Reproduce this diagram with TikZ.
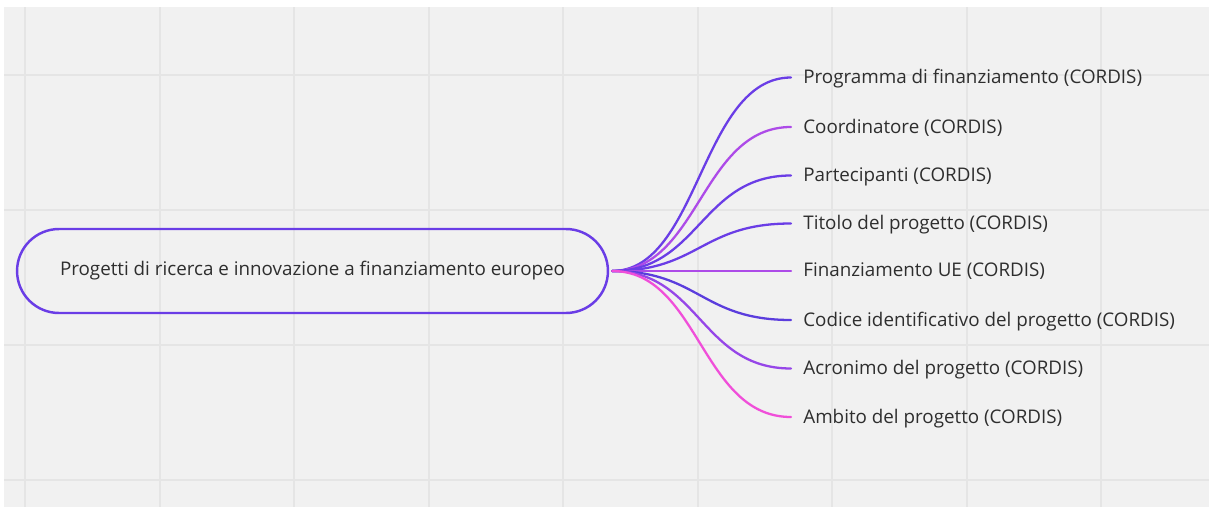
\documentclass[tikz,border=0pt]{standalone}
\usepackage{fontspec}
\setmainfont{Open Sans}
\usepackage{xcolor}
\usepackage{tikz}
\usetikzlibrary{positioning,calc}

\definecolor{boardgray}{HTML}{F1F1F1}
\definecolor{gridgray}{HTML}{E5E5E5}
\definecolor{mapblue}{HTML}{6A3DE6}
\definecolor{mapviolet}{HTML}{AD4BE8}
\definecolor{mappurple}{HTML}{9646E8}
\definecolor{mappink}{HTML}{F04FD9}
\definecolor{mapdeep}{HTML}{5B3DDD}
\definecolor{textdark}{HTML}{2E2E2E}

\tikzset{
    rootnode/.style={draw=mapblue, line width=1.4pt, rounded corners=0.84cm,
        minimum width=11.82cm, minimum height=1.68cm, font=\fontsize{10.7}{12}\selectfont, text=textdark},
    leafnode/.style={anchor=west, inner xsep=0.24cm, inner ysep=0pt, text depth=0.12em,
        font=\fontsize{10.7}{12}\selectfont, text=textdark},
    branch/.style={line width=1.3pt, line cap=round, shorten <=0.06cm},
    gridline/.style={draw=gridgray, line width=0.8pt}
}

\begin{document}
\begin{tikzpicture}[x=0.02cm, y=-0.02cm]
    % board
    \useasboundingbox (0,0) rectangle (1209,507);
    \fill[white] (0,0) rectangle (1209,507);
    \fill[boardgray] (4,7) rectangle (1209,507);

    % grid
    \foreach \gx in {25,160,294,429,563,698,832,967,1101}
        \draw[gridline] (\gx,7) -- (\gx,507);
    \foreach \gy in {75,210,345,480}
        \draw[gridline] (4,\gy) -- (1209,\gy);

    % central topic
    \node[rootnode] (root) at (312.5,271) {Progetti di ricerca e innovazione a finanziamento europeo};

    % leaves
    \node[leafnode] (programma) at (791,77.5) {Programma di finanziamento (CORDIS)};
    \node[leafnode] (coordinatore) at (791,127) {Coordinatore (CORDIS)};
    \node[leafnode] (partecipanti) at (791,175.5) {Partecipanti (CORDIS)};
    \node[leafnode] (titolo) at (791,223.5) {Titolo del progetto (CORDIS)};
    \node[leafnode] (finanziamento) at (791,271) {Finanziamento UE (CORDIS)};
    \node[leafnode] (codice) at (791,320) {Codice identificativo del progetto (CORDIS)};
    \node[leafnode] (acronimo) at (791,368.5) {Acronimo del progetto (CORDIS)};
    \node[leafnode] (ambito) at (791,417) {Ambito del progetto (CORDIS)};

    % branches
    \draw[branch, mapblue] (root.east) .. controls +(90,0) and +(-90,0) .. (programma.west);
    \draw[branch, mapviolet] (root.east) .. controls +(90,0) and +(-90,0) .. (coordinatore.west);
    \draw[branch, mapblue] (root.east) .. controls +(90,0) and +(-90,0) .. (partecipanti.west);
    \draw[branch, mapblue] (root.east) .. controls +(90,0) and +(-90,0) .. (titolo.west);
    \draw[branch, mapviolet] (root.east) -- (finanziamento.west);
    \draw[branch, mapdeep] (root.east) .. controls +(90,0) and +(-90,0) .. (codice.west);
    \draw[branch, mappurple] (root.east) .. controls +(90,0) and +(-90,0) .. (acronimo.west);
    \draw[branch, mappink] (root.east) .. controls +(90,0) and +(-90,0) .. (ambito.west);
\end{tikzpicture}
\end{document}
